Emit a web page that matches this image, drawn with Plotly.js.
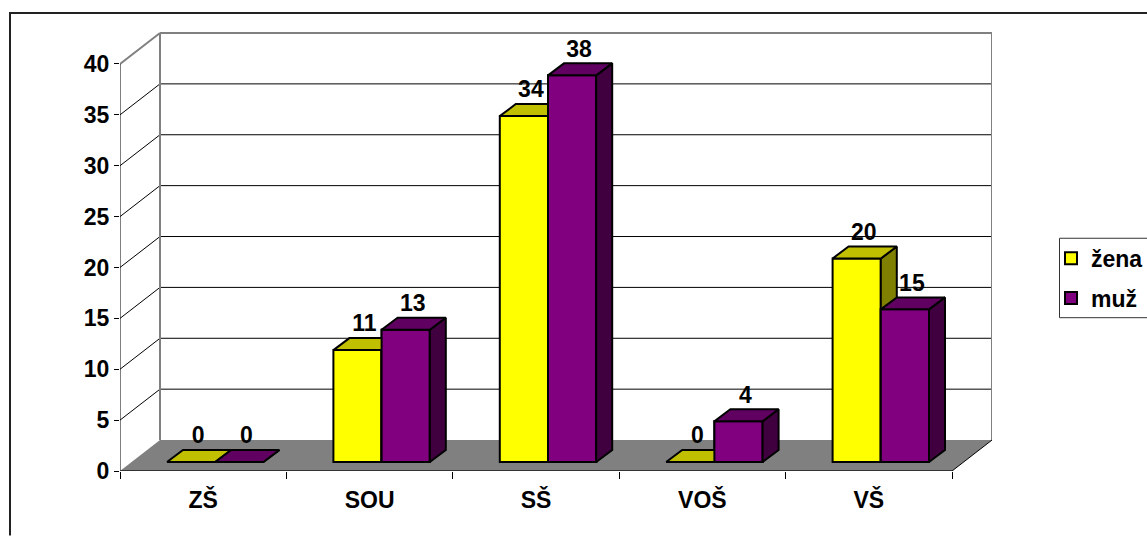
<!DOCTYPE html>
<html><head><meta charset="utf-8">
<script src="https://cdn.plot.ly/plotly-3.0.1.min.js"></script>
<style>html,body{margin:0;padding:0;background:#fff;overflow:hidden}#c{width:1147px;height:536px}</style>
</head><body><div id="c"></div>
<script>
const categories = ['ZŠ','SOU','SŠ','VOŠ','VŠ'];
const zena = [0,11,34,0,20];
const muz = [0,13,38,4,15];
const yTicks = [0,5,10,15,20,25,30,35,40];

const W=1147,H=536, L=120,R=992,T=32,B=471.5;
const pxX=166.4, pxY=407.5/40;
const dx=px=>px/pxX, dy=px=>px/pxY;
const wallX=dx(40), wallY=dy(31);
const barW=dx(48.2), shiftX=dx(12), floorY=dy(9), depthX=dx(16), depthY=dy(12);
const centers=categories.map((c,i)=>i+0.5);
const n=categories.length;

function poly(fn,vals,start){
  const x=[],y=[];
  vals.forEach((v,i)=>{
    const pts=fn(centers[i]+shiftX+start, floorY, v);
    pts.forEach(p=>{x.push(p[0]);y.push(p[1]);});
    x.push(pts[0][0]);y.push(pts[0][1]);
    x.push(null);y.push(null);
  });
  return {x,y};
}
const front=(x,b,v)=>[[x,b],[x+barW,b],[x+barW,b+v],[x,b+v]];
const side=(x,b,v)=>[[x+barW,b],[x+barW+depthX,b+depthY],[x+barW+depthX,b+v+depthY],[x+barW,b+v]];
const top_=(x,b,v)=>[[x,b+v],[x+barW,b+v],[x+barW+depthX,b+v+depthY],[x+depthX,b+v+depthY]];
const face=(xy,color)=>({type:'scatter',mode:'lines',x:xy.x,y:xy.y,fill:'toself',fillcolor:color,
  line:{color:'#000',width:2},showlegend:false,hoverinfo:'skip'});

const labelFont={family:'Liberation Sans',size:23,color:'#000',weight:700};
const traces=[
 {type:'bar',name:'žena',x:centers.map(c=>c+shiftX-barW/2),y:zena,base:floorY,width:barW,
  marker:{color:'#ffff00',line:{color:'#000',width:2}},legendgroup:'a',hoverinfo:'skip'},
 {type:'bar',name:'muž',x:centers.map(c=>c+shiftX+barW/2),y:muz,base:floorY,width:barW,
  marker:{color:'#800080',line:{color:'#000',width:2}},legendgroup:'b',hoverinfo:'skip'},
 face(poly(side,zena,-barW),'#808000'),
 face(poly(top_,zena,-barW),'#c0c000'),
 face(poly(front,muz,0),'#800080'),
 face(poly(side,muz,0),'#400040'),
 face(poly(top_,muz,0),'#600060'),
 {type:'scatter',mode:'text',showlegend:false,hoverinfo:'skip',cliponaxis:false,
  x:centers.map(c=>c+shiftX-barW/2+depthX/2-dx(1)).concat(centers.map(c=>c+shiftX+barW/2+depthX/2-dx(1))),
  y:zena.map(v=>v+floorY+depthY+dy(1)).concat(muz.map(v=>v+floorY+depthY+dy(1))),
  text:zena.concat(muz).map(String),textposition:'top center',
  textfont:labelFont}
];

const seg=(x0,y0,x1,y1,color,width,layer)=>({type:'line',xref:'x',yref:'y',x0,y0,x1,y1,
  line:{color,width},layer:layer||'below'});
const shapes=[
 {type:'path',xref:'x',yref:'y',layer:'below',line:{width:0},fillcolor:'#808080',
  path:`M0,0 L${n},0 L${n+wallX},${wallY} L${wallX},${wallY} Z`},
];
yTicks.slice(1,-1).forEach(t=>{
  shapes.push(seg(0,t,wallX,t+wallY,'#000',1));
  shapes.push(seg(wallX,t+wallY,n+wallX,t+wallY,'#000',1));
});
const topV=yTicks[yTicks.length-1];
shapes.push(seg(wallX,wallY,wallX,topV+wallY,'#808080',2));
shapes.push(seg(n+wallX,wallY,n+wallX,topV+wallY,'#808080',2));
shapes.push(seg(wallX,topV+wallY,n+wallX,topV+wallY,'#808080',2));
shapes.push(seg(0,topV,wallX,topV+wallY,'#808080',2));
shapes.push(seg(n,0,n+wallX,wallY,'#000',1));
shapes.push(seg(0,0,0,topV,'#000',1,'above'));
shapes.push(seg(0,0,n,0,'#333',2,'above'));
const pxf=v=>(v-L)/(R-L), pyf=v=>(B-v)/(B-T);
shapes.push({type:'line',xref:'paper',yref:'paper',x0:pxf(9),x1:pxf(1147),y0:pyf(13),y1:pyf(13),line:{color:'#222',width:2}});
shapes.push({type:'line',xref:'paper',yref:'paper',x0:pxf(10),x1:pxf(10),y0:pyf(13),y1:pyf(536),line:{color:'#222',width:2}});
shapes.push({type:'rect',xref:'paper',yref:'paper',x0:pxf(1059.5),x1:pxf(1150),y0:pyf(238.5),y1:pyf(318),layer:'below',
  line:{color:'#333',width:1},fillcolor:'#fff'});

const font={family:'Liberation Sans',size:23,color:'#000',weight:700};
const layout={
 width:W,height:H,paper_bgcolor:'#fff',plot_bgcolor:'rgba(0,0,0,0)',
 margin:{l:L,r:W-R,t:T,b:H-B,autoexpand:false,pad:0},
 barmode:'overlay',
 xaxis:{range:[0,(R-L)/pxX],tickmode:'array',tickvals:centers,ticktext:categories,ticks:'',tickfont:font,ticklabelstandoff:13,
   showgrid:false,zeroline:false,showline:false,
   minor:{tickmode:'array',tickvals:categories.map((c,i)=>i).concat([n]),ticks:'outside',ticklen:7,tickcolor:'#000',tickwidth:1,showgrid:false}},
 yaxis:{range:[0,(B-T)/pxY],tickmode:'array',tickvals:yTicks,ticks:'outside',ticklen:5,tickcolor:'#000',tickwidth:1,
   tickfont:font,showgrid:false,zeroline:false,showline:false},
 legend:{x:pxf(1051),xanchor:'left',y:pyf(237),yanchor:'top',bordercolor:'rgba(0,0,0,0)',borderwidth:0,bgcolor:'rgba(0,0,0,0)',
   font:{family:'Liberation Sans',size:23,color:'#000',weight:700},traceorder:'grouped',tracegroupgap:7,itemclick:false,itemdoubleclick:false},
 shapes
};
Plotly.newPlot('c',traces,layout,{displayModeBar:false,staticPlot:true});
</script></body></html>
